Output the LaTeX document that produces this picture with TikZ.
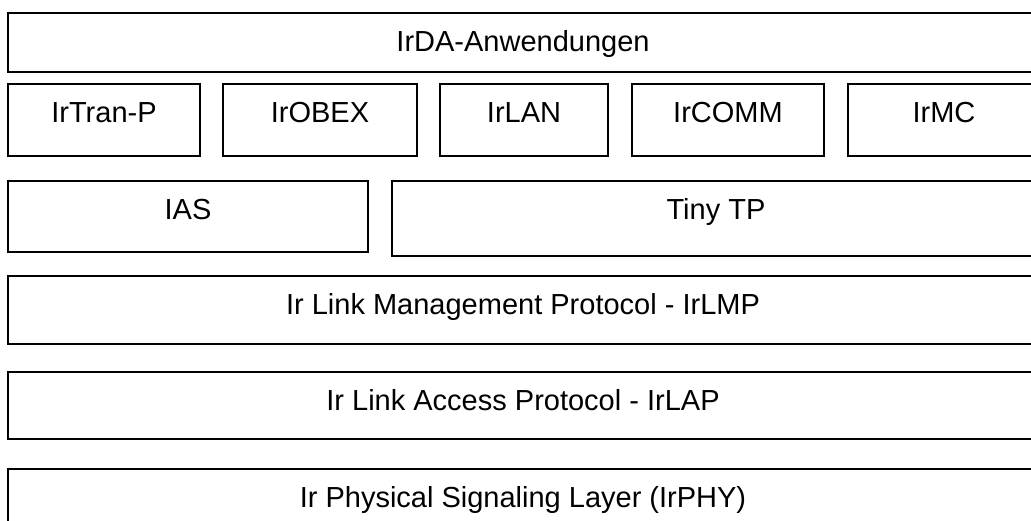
\documentclass[tikz,border=0pt]{standalone}
\usepackage{fontspec}
\setmainfont{Liberation Sans}
\usetikzlibrary{positioning}

\begin{document}
\begin{tikzpicture}[x=1pt,y=-1pt,
		layer/.style={draw,line width=1.3pt,inner sep=0pt,outer sep=0pt,anchor=north west,
			text height=38.5pt,font=\fontsize{29}{33}\selectfont},
		full/.style={layer,minimum width=1030pt}]
			\clip (0,0) rectangle (1031,520);
			\node[full,text depth=20.5pt] (apps) at (8,13) {IrDA-Anwendungen};
			\node[layer,minimum width=192pt,text depth=33.5pt] (tranp) at (8,84) {IrTran-P};
			\node[layer,minimum width=194pt,text depth=33.5pt] (obex) [right=23pt of tranp] {IrOBEX};
			\node[layer,minimum width=168pt,text depth=33.5pt] (lan) [right=23pt of obex] {IrLAN};
			\node[layer,minimum width=192pt,text depth=33.5pt] (comm) [right=24pt of lan] {IrCOMM};
			\node[layer,minimum width=192pt,text depth=33.5pt] (mc) [right=24pt of comm] {IrMC};
			\node[layer,minimum width=360pt,text depth=32.5pt] (ias) at (8,181) {IAS};
			\node[layer,minimum width=648pt,text depth=36.5pt] (ttp) [right=24pt of ias.north east,anchor=north west] {Tiny TP};
			\node[full,text depth=29.5pt] (lmp) at (8,276) {Ir Link Management Protocol - IrLMP};
			\node[full,text depth=28.5pt] (lap) at (8,372) {Ir Link Access Protocol - IrLAP};
			\node[full,text depth=31.5pt] (phy) at (8,469) {Ir Physical Signaling Layer (IrPHY)};
	\end{tikzpicture}
\end{document}
